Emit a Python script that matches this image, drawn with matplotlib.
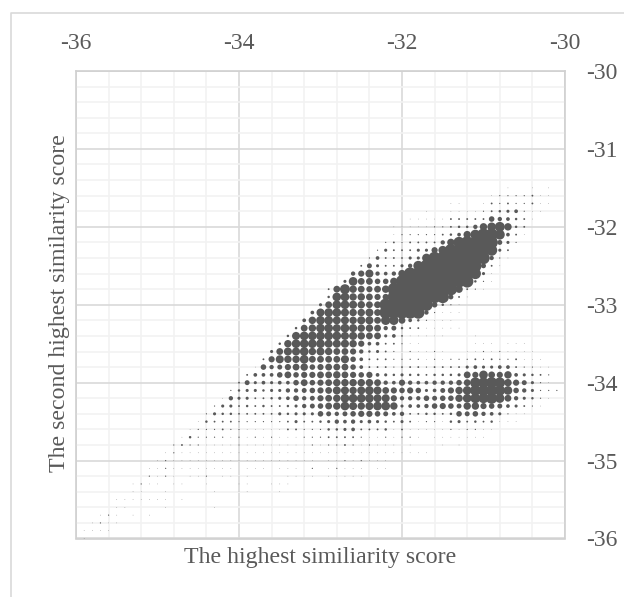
import matplotlib
matplotlib.use('Agg')
import matplotlib.pyplot as plt

W, H = 624, 597
GREY = '#595959'

x_ticks = [-36, -34, -32, -30]
y_ticks = [-36, -35, -34, -33, -32, -31, -30]

# each row: (x of first bubble, bubble sizes going right in steps of 0.1)
row_315 = (-30.7, [1, 0, 0, 1, 0, 1])
row_316 = (-30.9, [1, 2, 2, 2, 2, 3, 1, 1])
row_317 = (-31.4, [1, 1, 0, 0, 1, 3, 2, 3, 2, 2, 3, 1, 1])
row_318 = (-31.7, [1, 0, 0, 1, 1, 1, 1, 2, 3, 4, 5, 6, 2, 1, 1])
row_319 = (-31.9, [1, 1, 1, 1, 1, 3, 3, 3, 3, 3, 9, 7, 6, 4, 3, 1])
row_320 = (-32.1, [1, 1, 1, 1, 1, 2, 2, 3, 4, 4, 7, 12, 14, 16, 12, 4, 3])
row_321 = (-32.1, [1, 2, 2, 2, 2, 2, 3, 4, 6, 12, 16, 20, 20, 16, 6, 3, 1])
row_322 = (-32.2, [2, 3, 2, 3, 3, 3, 3, 7, 12, 18, 20, 20, 20, 20, 8, 5, 2])
row_323 = (-32.3, [2, 5, 3, 3, 3, 5, 5, 10, 14, 20, 20, 20, 20, 20, 18, 5, 3])
row_324 = (-32.4, [2, 6, 3, 3, 3, 5, 5, 14, 20, 20, 20, 20, 20, 20, 20, 7, 2, 1])
row_325 = (-32.5, [3, 8, 5, 3, 3, 5, 7, 16, 20, 20, 20, 20, 20, 20, 20, 8, 3, 1])
row_326 = (-32.6, [7, 10, 13, 7, 6, 7, 12, 20, 20, 20, 20, 20, 20, 20, 20, 18, 5, 1])
row_327 = (-32.7, [5, 14, 11, 11, 9, 9, 12, 20, 20, 20, 20, 20, 20, 20, 20, 20, 4, 2, 1])
row_328 = (-32.9, [3, 11, 16, 12, 11, 10, 11, 12, 20, 20, 20, 20, 20, 20, 20, 20, 12, 3, 2, 1])
row_329 = (-32.9, [4, 14, 14, 12, 12, 11, 10, 10, 20, 20, 20, 20, 20, 20, 20, 8, 3, 1])
row_330 = (-33.0, [5, 11, 14, 14, 13, 12, 11, 11, 20, 20, 20, 20, 20, 20, 9, 4, 2, 1])
row_331 = (-33.1, [6, 13, 14, 14, 13, 12, 12, 13, 11, 20, 20, 20, 20, 20, 7, 2, 1, 1, 1])
row_332 = (-33.2, [6, 12, 14, 14, 13, 13, 12, 13, 13, 11, 15, 15, 11, 6, 4, 2, 1, 1, 1])
row_333 = (-33.3, [4, 11, 12, 14, 14, 13, 14, 13, 12, 12, 11, 7, 8, 4, 3, 3, 1, 1, 1, 1, 1])
row_334 = (-33.4, [4, 13, 14, 14, 14, 14, 14, 13, 13, 12, 11, 11, 5, 6, 3, 1, 1, 1, 1, 1, 0, 0, 0, 1])
row_335 = (-33.5, [4, 12, 14, 14, 14, 14, 13, 13, 13, 12, 10, 6, 6, 3, 3, 2, 1, 1, 0, 0, 0, 0, 0, 0, 1, 1, 1, 0, 1, 1, 1])
row_336 = (-33.6, [5, 11, 13, 13, 14, 12, 13, 12, 11, 11, 10, 7, 4, 5, 3, 2, 1, 2, 1, 1, 2, 1, 0, 0, 1, 1, 2, 1, 2, 1, 1, 1, 1])
row_337 = (-33.7, [3, 10, 13, 12, 12, 14, 11, 11, 11, 11, 13, 9, 6, 3, 3, 3, 2, 2, 2, 2, 1, 2, 1, 2, 2, 2, 3, 2, 3, 2, 2, 3, 1, 1, 1])
row_338 = (-33.8, [1, 9, 7, 8, 10, 11, 12, 9, 10, 11, 11, 11, 9, 6, 3, 3, 3, 2, 3, 3, 3, 2, 3, 3, 3, 3, 5, 6, 5, 5, 6, 6, 3, 2, 2, 1, 1])
row_339 = (-33.9, [3, 6, 6, 6, 9, 11, 9, 10, 10, 11, 11, 12, 11, 10, 9, 10, 6, 5, 4, 5, 4, 4, 3, 4, 4, 4, 5, 11, 10, 14, 11, 10, 12, 6, 5, 4, 3, 2])
row_340 = (-34.0, [3, 8, 5, 6, 5, 6, 6, 9, 11, 9, 10, 11, 12, 12, 12, 12, 12, 11, 7, 6, 10, 7, 6, 6, 7, 7, 7, 9, 11, 17, 17, 18, 17, 12, 10, 8, 5, 2, 1])
row_341 = (-34.1, [2, 4, 5, 5, 4, 5, 5, 7, 7, 8, 9, 10, 11, 13, 13, 12, 13, 14, 13, 11, 10, 9, 10, 9, 5, 6, 8, 10, 12, 14, 17, 18, 18, 17, 14, 9, 7, 5, 2, 2, 2])
row_342 = (-34.2, [1, 7, 5, 5, 3, 3, 4, 5, 6, 9, 7, 8, 10, 11, 12, 14, 14, 14, 14, 13, 13, 10, 7, 7, 7, 9, 8, 9, 9, 12, 14, 16, 16, 18, 15, 11, 7, 5, 4, 2, 1])
row_343 = (-34.3, [2, 5, 5, 3, 4, 3, 4, 3, 3, 4, 5, 7, 8, 9, 11, 12, 14, 13, 12, 13, 14, 14, 12, 5, 6, 6, 7, 9, 10, 9, 8, 12, 12, 10, 9, 8, 6, 5, 3, 2, 1])
row_344 = (-34.4, [2, 5, 4, 4, 3, 3, 3, 3, 3, 5, 4, 5, 5, 5, 9, 8, 7, 8, 9, 10, 10, 9, 8, 6, 7, 3, 3, 4, 4, 3, 4, 9, 8, 9, 7, 6, 5, 2, 1, 1])
row_345 = (-34.5, [1, 4, 3, 3, 3, 2, 2, 2, 2, 2, 2, 3, 5, 3, 3, 4, 5, 7, 6, 7, 5, 6, 5, 4, 3, 5, 3, 1, 2, 2, 1, 4, 5, 3, 4, 3, 4, 1, 1, 1])
row_346 = (-34.6, [1, 2, 2, 2, 3, 2, 2, 1, 1, 1, 1, 1, 3, 3, 2, 2, 2, 4, 4, 5, 6, 3, 3, 3, 4, 1, 3, 1, 1, 1, 1, 1, 2, 1, 2, 2, 1, 1])
row_347 = (-34.7, [1, 4, 2, 2, 2, 2, 1, 2, 1, 2, 1, 2, 1, 1, 1, 2, 2, 2, 3, 3, 3, 3, 2, 1, 1, 2, 1, 2, 2, 1, 0, 1, 1, 1, 1, 1, 1, 1])
row_348 = (-34.8, [2, 3, 2, 2, 1, 1, 1, 1, 2, 1, 1, 1, 1, 1, 1, 1, 1, 2, 1, 2, 2, 3, 2, 1, 2, 1, 1, 1, 1, 1, 0, 0, 0, 1, 0, 1])
row_349 = (-34.9, [1, 2, 1, 1, 1, 1, 1, 1, 1, 1, 1, 1, 1, 1, 1, 1, 1, 1, 1, 1, 1, 1, 1, 1, 1, 1, 1, 1, 1, 1, 1, 1, 1])
row_350 = (-35.0, [1, 2, 1, 1, 1, 1, 1, 1, 1, 1, 1, 1, 1, 1, 1, 1, 1, 1, 1, 1, 0, 1, 1, 2, 1, 2, 1, 1, 1])
row_351 = (-35.1, [1, 1, 2, 1, 1, 1, 1, 1, 1, 1, 1, 0, 1, 1, 1, 0, 1, 1, 1, 0, 2, 0, 1, 2, 1, 1, 1, 0, 1, 1])
row_352 = (-35.1, [2, 1, 2, 1, 0, 1, 1, 2, 0, 1, 1, 1, 1, 0, 0, 0, 0, 1, 1, 1, 1, 0, 1, 1, 1, 1, 1])
row_353 = (-35.3, [1, 2, 1, 1, 0, 1, 1, 0, 0, 1, 0, 0, 0, 1, 1, 0, 0, 1, 1, 1])
row_354 = (-35.3, [1, 1, 0, 0, 1, 0, 0, 0, 0, 0, 1, 0, 0, 1, 1, 0, 0, 0, 1])
row_355 = (-35.5, [1, 1, 1, 1, 1, 1, 1, 0, 1])
row_356 = (-35.5, [1, 1, 0, 0, 0, 0, 1, 0, 0, 0, 0, 0, 1])
row_357 = (-35.7, [1, 2, 1, 0, 1, 0, 1])
row_358 = (-35.8, [1, 2, 1, 1])
row_359 = (-35.9, [1, 1, 1, 1])
row_360 = (-35.9, [1])

rows = {
    -31.5: row_315, -31.6: row_316, -31.7: row_317, -31.8: row_318, -31.9: row_319,
    -32.0: row_320, -32.1: row_321, -32.2: row_322, -32.3: row_323, -32.4: row_324,
    -32.5: row_325, -32.6: row_326, -32.7: row_327, -32.8: row_328, -32.9: row_329,
    -33.0: row_330, -33.1: row_331, -33.2: row_332, -33.3: row_333, -33.4: row_334,
    -33.5: row_335, -33.6: row_336, -33.7: row_337, -33.8: row_338, -33.9: row_339,
    -34.0: row_340, -34.1: row_341, -34.2: row_342, -34.3: row_343, -34.4: row_344,
    -34.5: row_345, -34.6: row_346, -34.7: row_347, -34.8: row_348, -34.9: row_349,
    -35.0: row_350, -35.1: row_351, -35.2: row_352, -35.3: row_353, -35.4: row_354,
    -35.5: row_355, -35.6: row_356, -35.7: row_357, -35.8: row_358, -35.9: row_359,
    -36.0: row_360,
}

plt.rcParams['font.family'] = ['Liberation Serif', 'DejaVu Serif']
plt.rcParams['axes.unicode_minus'] = False

fig = plt.figure(figsize=(W / 100, H / 100), dpi=100)
ax = fig.add_axes([76 / W, 1 - 538.5 / H, (565 - 76) / W, (538.5 - 71) / H])

xs, ys, sizes = [], [], []
for y, (first, values) in rows.items():
    for k, v in enumerate(values):
        if v > 0:
            xs.append(first + 0.1 * k)
            ys.append(y)
            sizes.append((v * 0.62 * 0.72) ** 2)

ax.scatter(xs, ys, s=sizes, color=GREY, linewidths=0, zorder=3, clip_on=False)

ax.set_xlim(-36, -30)
ax.set_ylim(-36, -30)
ax.set_xticks(x_ticks)
ax.set_yticks(y_ticks)
ax.set_xticks([-35.6, -35.2, -34.8, -34.4, -33.6, -33.2, -32.8, -32.4, -31.6, -31.2, -30.8, -30.4], minor=True)
ax.set_yticks([v / 10 for v in range(-358, -300, 2) if v % 10 != 0], minor=True)
ax.xaxis.tick_top()
ax.yaxis.tick_right()
ax.tick_params(which='both', length=0, labelsize=17, labelcolor=GREY)
ax.tick_params(axis='x', pad=12.5)
ax.tick_params(axis='y', pad=15)
ax.grid(which='minor', color='#F2F2F2', lw=1.2, zorder=0)
ax.grid(which='major', color='#D9D9D9', lw=1.2, zorder=1)
ax.set_axisbelow(True)
for side in ax.spines:
    ax.spines[side].set_color('#D0D0D0')
    ax.spines[side].set_linewidth(1.2)

fig.text(320 / W, 1 - 557 / H, 'The highest similiarity score', fontsize=17.2, color=GREY, ha='center', va='center')
fig.text(60 / W, 1 - 303 / H, 'The second highest similarity score', fontsize=17.2, color=GREY,
         rotation=90, ha='center', va='center')

# chart frame, open to the right and bottom of the crop
fig.add_artist(plt.Line2D([11 / W, 11 / W, 1], [0, 1 - 12.5 / H, 1 - 12.5 / H], color='#D9D9D9', lw=1.2))

fig.savefig('out.png', dpi=100)
